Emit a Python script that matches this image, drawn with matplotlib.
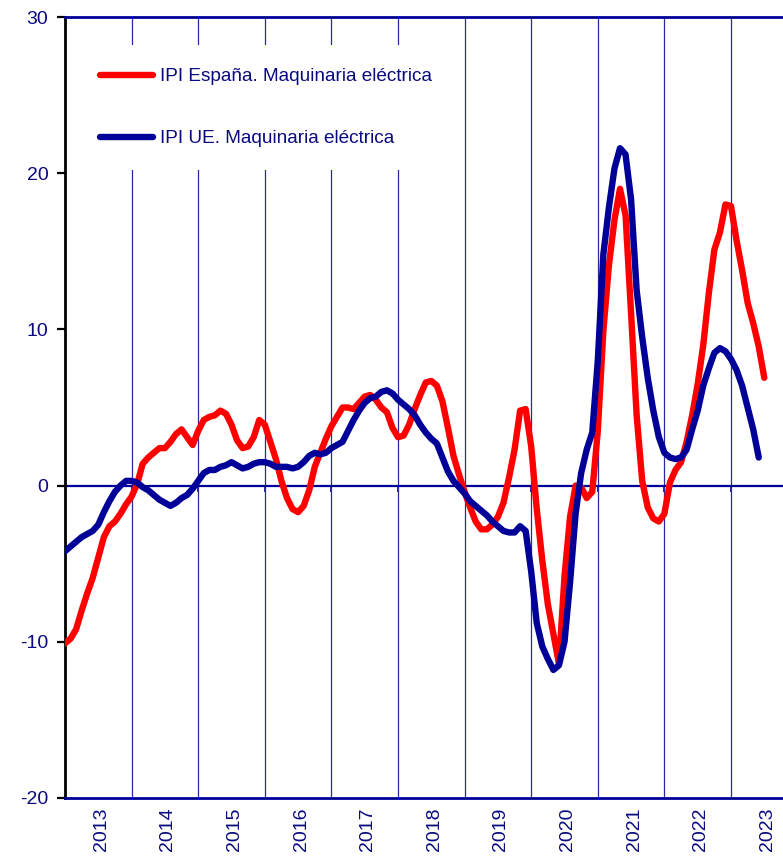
import numpy as np
import matplotlib
matplotlib.use("Agg")
import matplotlib.pyplot as plt
import matplotlib.transforms as mtransforms

plt.rcParams['font.family'] = ['Liberation Sans', 'DejaVu Sans']
plt.rcParams['axes.unicode_minus'] = False

# monthly values from Jan 2013
ipi_espana = [
    -10.1, -9.8, -9.2, -8.0, -6.9, -5.9, -4.6, -3.3, -2.6, -2.3, -1.8, -1.2,
    -0.7, 0.1, 1.4, 1.8, 2.1, 2.4, 2.4, 2.8, 3.3, 3.6, 3.1, 2.6,
    3.5, 4.2, 4.4, 4.5, 4.8, 4.6, 3.9, 2.9, 2.4, 2.5, 3.1, 4.2,
    3.9, 2.8, 1.7, 0.3, -0.8, -1.5, -1.7, -1.3, -0.3, 1.2, 2.1, 3.0,
    3.8, 4.4, 5.0, 5.0, 4.9, 5.3, 5.7, 5.8, 5.5, 5.0, 4.7, 3.7,
    3.1, 3.2, 3.9, 4.9, 5.8, 6.6, 6.7, 6.4, 5.4, 3.7, 1.9, 0.7,
    -0.4, -1.4, -2.3, -2.8, -2.8, -2.5, -2.0, -1.1, 0.5, 2.3, 4.8, 4.9,
    2.5, -1.5, -4.8, -7.6, -9.5, -11.4, -5.8, -2.0, 0.0, -0.1, -0.8, -0.4,
    3.5, 9.9, 14.1, 17.0, 19.0, 17.3, 11.0, 4.5, 0.3, -1.4, -2.1, -2.3,
    -1.8, 0.2, 1.0, 1.5, 2.8, 4.5, 6.5, 9.0, 12.3, 15.1, 16.2, 18.0,
    17.9, 15.7, 13.8, 11.7, 10.4, 8.9, 6.9,
]

ipi_ue = [
    -4.2, -3.9, -3.6, -3.3, -3.1, -2.9, -2.5, -1.7, -1.0, -0.4, 0.0, 0.3,
    0.3, 0.2, -0.1, -0.3, -0.6, -0.9, -1.1, -1.3, -1.1, -0.8, -0.6, -0.2,
    0.3, 0.8, 1.0, 1.0, 1.2, 1.3, 1.5, 1.3, 1.1, 1.2, 1.4, 1.5,
    1.5, 1.4, 1.2, 1.2, 1.2, 1.1, 1.2, 1.5, 1.9, 2.1, 2.0, 2.1,
    2.4, 2.6, 2.8, 3.5, 4.2, 4.8, 5.3, 5.6, 5.7, 6.0, 6.1, 5.9,
    5.5, 5.2, 4.9, 4.5, 3.9, 3.4, 3.0, 2.7, 1.8, 0.9, 0.3, -0.1,
    -0.5, -1.0, -1.3, -1.6, -1.9, -2.3, -2.6, -2.9, -3.0, -3.0, -2.6, -2.9,
    -5.5, -8.8, -10.3, -11.1, -11.8, -11.5, -10.0, -6.2, -1.8, 0.8, 2.3, 3.4,
    8.0, 14.8, 17.8, 20.3, 21.6, 21.2, 18.3, 12.5, 9.5, 6.9, 4.8, 3.1,
    2.1, 1.8, 1.7, 1.8, 2.3, 3.6, 4.8, 6.4, 7.5, 8.5, 8.8, 8.6,
    8.1, 7.4, 6.4, 5.0, 3.6, 1.8,
]

years = list(range(2013, 2024))
label_espana = "IPI España. Maquinaria eléctrica"
label_ue = "IPI UE. Maquinaria eléctrica"

red = "#ff0000"
navy = "#000099"
txt = "#0a0a80"

x_es = 2013 + np.arange(len(ipi_espana)) / 12
x_ue = 2013 + np.arange(len(ipi_ue)) / 12

fig = plt.figure(figsize=(7.83, 8.58), dpi=100)
ax = fig.add_axes([65 / 783, 60 / 858, 718 / 783, 781 / 858])

for yr in years[1:]:
    ax.axvline(yr, color="#2a2aa0", lw=0.9, zorder=1)
ax.axhline(0, color=navy, lw=1.6, zorder=1)

ax.plot(x_es, ipi_espana, color=red, lw=4.6, solid_capstyle="round",
        solid_joinstyle="round", label=label_espana, zorder=3)
ax.plot(x_ue, ipi_ue, color=navy, lw=4.6, solid_capstyle="round",
        solid_joinstyle="round", label=label_ue, zorder=3)

ax.set_xlim(2013, 2013 + 718 / 66.6)
ax.set_ylim(-20, 30)
ax.set_yticks([-20, -10, 0, 10, 20, 30])
ax.set_xticks([y + 0.5 for y in years])
ax.set_xticklabels([str(y) for y in years], rotation=90)

ax.tick_params(axis="y", direction="out", length=6, width=1.6, color="black",
               labelcolor=txt, labelsize=14, pad=6)
ax.tick_params(axis="x", length=0, labelcolor=txt, labelsize=14, pad=7)

# nudge year labels a little to the right
shift = mtransforms.ScaledTranslation(3 / 100, 0, fig.dpi_scale_trans)
for lab in ax.get_xticklabels():
    lab.set_transform(lab.get_transform() + shift)

ax.spines["left"].set_color("black")
ax.spines["left"].set_linewidth(2)
ax.spines["bottom"].set_color(navy)
ax.spines["bottom"].set_linewidth(2)
ax.spines["top"].set_color(navy)
ax.spines["top"].set_linewidth(2)
ax.spines["right"].set_visible(False)

# small ticks on the zero line
sec = ax.secondary_xaxis(0.4)
sec.set_xticks(years[1:])
sec.set_xticklabels([])
sec.tick_params(direction="out", length=4, width=1.2, color=navy)
sec.spines["bottom"].set_visible(False)

leg = ax.legend(loc="upper left", bbox_to_anchor=(0.0174, 0.964), borderaxespad=0,
                fontsize=13.7, frameon=True, fancybox=False, framealpha=1,
                facecolor="white", edgecolor="none", handlelength=2.75,
                handletextpad=0.4, labelspacing=2.35, borderpad=1.2)
leg.set_zorder(2)
for t in leg.get_texts():
    t.set_color(txt)

fig.savefig("out.png", dpi=100)
